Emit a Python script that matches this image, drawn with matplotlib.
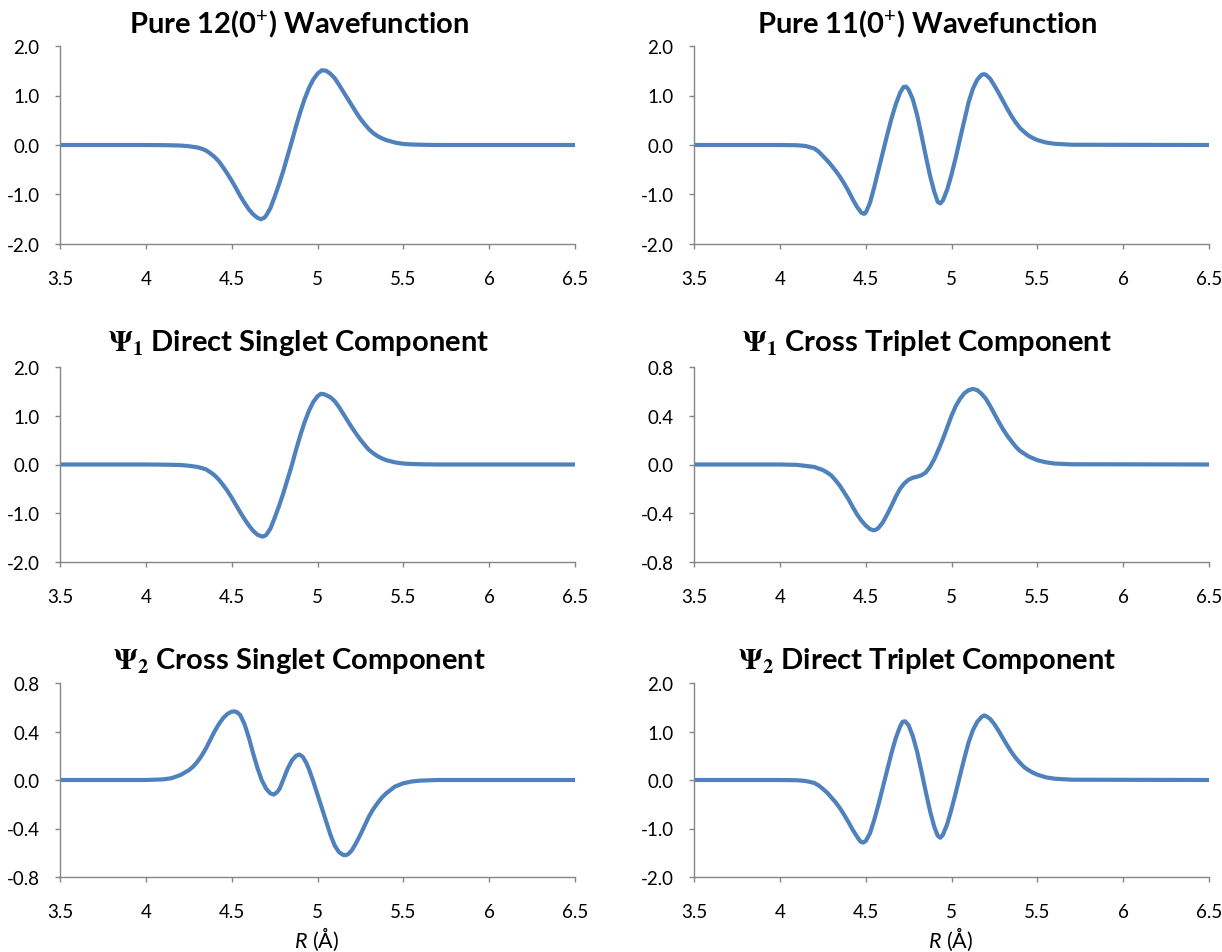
import numpy as np
import matplotlib
matplotlib.use("Agg")
import matplotlib.pyplot as plt

plt.rcParams['font.family'] = ['Lato', 'DejaVu Sans']
plt.rcParams['mathtext.fontset'] = 'custom'
plt.rcParams['mathtext.rm'] = 'Lato'
plt.rcParams['mathtext.it'] = 'Lato:italic'
plt.rcParams['mathtext.bf'] = 'Lato:bold'

# Pure 12(0+) wavefunction
r_pure12 = [3.5, 4.0, 4.1, 4.2, 4.25, 4.3, 4.325, 4.35, 4.375, 4.4, 4.425, 4.45, 4.475, 4.5,
            4.525, 4.55, 4.575, 4.6, 4.625, 4.65, 4.67, 4.69, 4.7, 4.725, 4.75, 4.775, 4.8,
            4.825, 4.85, 4.875, 4.9, 4.925, 4.95, 4.975, 5.0, 5.025, 5.05, 5.075, 5.1, 5.125,
            5.15, 5.175, 5.2, 5.225, 5.25, 5.275, 5.3, 5.325, 5.35, 5.375, 5.4, 5.45, 5.5,
            5.55, 5.6, 5.7, 6.5]
psi_pure12 = [0, 0, -0.003, -0.01, -0.025, -0.05, -0.075, -0.11, -0.17, -0.24, -0.33, -0.45,
              -0.58, -0.72, -0.87, -1.03, -1.17, -1.3, -1.4, -1.47, -1.5, -1.47, -1.43, -1.28,
              -1.05, -0.8, -0.53, -0.23, 0.07, 0.38, 0.67, 0.93, 1.15, 1.32, 1.44, 1.51, 1.5,
              1.44, 1.35, 1.22, 1.08, 0.94, 0.8, 0.66, 0.53, 0.42, 0.32, 0.24, 0.18, 0.135,
              0.1, 0.05, 0.02, 0.01, 0.005, 0, 0]

# Pure 11(0+) wavefunction
r_pure11 = [3.5, 4.0, 4.1, 4.15, 4.2, 4.225, 4.25, 4.275, 4.3, 4.325, 4.35, 4.375, 4.4, 4.425,
            4.45, 4.475, 4.49, 4.5, 4.525, 4.55, 4.575, 4.6, 4.625, 4.65, 4.675, 4.7, 4.72,
            4.735, 4.75, 4.775, 4.8, 4.825, 4.85, 4.875, 4.9, 4.92, 4.935, 4.95, 4.975, 5.0,
            5.025, 5.05, 5.075, 5.1, 5.125, 5.15, 5.175, 5.19, 5.2, 5.225, 5.25, 5.275, 5.3,
            5.325, 5.35, 5.375, 5.4, 5.425, 5.45, 5.475, 5.5, 5.55, 5.6, 5.7, 6.5]
psi_pure11 = [0, 0, -0.005, -0.02, -0.07, -0.13, -0.22, -0.31, -0.41, -0.52, -0.64, -0.78,
              -0.93, -1.1, -1.25, -1.37, -1.39, -1.37, -1.17, -0.85, -0.5, -0.15, 0.2, 0.53,
              0.82, 1.05, 1.17, 1.18, 1.12, 0.92, 0.6, 0.2, -0.22, -0.62, -0.95, -1.15, -1.18,
              -1.12, -0.9, -0.6, -0.25, 0.13, 0.5, 0.87, 1.14, 1.32, 1.42, 1.43, 1.42, 1.34,
              1.2, 1.05, 0.89, 0.73, 0.58, 0.45, 0.34, 0.26, 0.19, 0.14, 0.1, 0.05, 0.025,
              0.005, 0]

# Psi_1 direct singlet component
r_psi1_ds = [3.5, 4.0, 4.1, 4.2, 4.25, 4.3, 4.325, 4.35, 4.375, 4.4, 4.425, 4.45, 4.475, 4.5,
             4.525, 4.55, 4.575, 4.6, 4.625, 4.65, 4.68, 4.7, 4.725, 4.75, 4.775, 4.8, 4.825,
             4.85, 4.875, 4.9, 4.925, 4.95, 4.975, 5.0, 5.02, 5.04, 5.075, 5.1, 5.125, 5.15,
             5.175, 5.2, 5.225, 5.25, 5.275, 5.3, 5.325, 5.35, 5.375, 5.4, 5.45, 5.5, 5.55,
             5.6, 5.7, 6.5]
psi1_ds = [0, 0, -0.003, -0.01, -0.025, -0.05, -0.072, -0.1, -0.155, -0.22, -0.31, -0.42,
           -0.54, -0.68, -0.83, -0.98, -1.12, -1.25, -1.36, -1.44, -1.48, -1.45, -1.32, -1.1,
           -0.86, -0.6, -0.31, -0.02, 0.3, 0.6, 0.87, 1.1, 1.28, 1.4, 1.45, 1.44, 1.38, 1.3,
           1.18, 1.04, 0.9, 0.76, 0.63, 0.51, 0.4, 0.3, 0.23, 0.17, 0.125, 0.09, 0.045, 0.02,
           0.01, 0.005, 0, 0]

# Psi_1 cross triplet component
r_psi1_ct = [3.5, 4.0, 4.1, 4.2, 4.25, 4.275, 4.3, 4.325, 4.35, 4.375, 4.4, 4.425, 4.45, 4.475,
             4.5, 4.525, 4.545, 4.56, 4.575, 4.6, 4.625, 4.65, 4.675, 4.7, 4.725, 4.75, 4.775,
             4.8, 4.825, 4.85, 4.875, 4.9, 4.925, 4.95, 4.975, 5.0, 5.025, 5.05, 5.075, 5.1,
             5.125, 5.15, 5.175, 5.2, 5.225, 5.25, 5.275, 5.3, 5.325, 5.35, 5.375, 5.4, 5.45,
             5.5, 5.55, 5.6, 5.7, 6.5]
psi1_ct = [0, 0, -0.003, -0.02, -0.045, -0.065, -0.09, -0.13, -0.175, -0.23, -0.285, -0.35,
           -0.41, -0.46, -0.5, -0.53, -0.54, -0.535, -0.52, -0.475, -0.41, -0.34, -0.265, -0.2,
           -0.155, -0.125, -0.108, -0.1, -0.088, -0.065, -0.02, 0.045, 0.125, 0.21, 0.305,
           0.4, 0.48, 0.54, 0.585, 0.61, 0.62, 0.61, 0.58, 0.54, 0.48, 0.415, 0.35, 0.29,
           0.235, 0.19, 0.145, 0.11, 0.065, 0.035, 0.018, 0.008, 0.002, 0]

# Psi_2 cross singlet component
r_psi2_cs = [3.5, 4.0, 4.1, 4.15, 4.2, 4.25, 4.275, 4.3, 4.325, 4.35, 4.375, 4.4, 4.425, 4.45,
             4.475, 4.5, 4.515, 4.53, 4.55, 4.575, 4.6, 4.625, 4.65, 4.675, 4.7, 4.725, 4.745,
             4.765, 4.78, 4.8, 4.825, 4.85, 4.875, 4.895, 4.915, 4.935, 4.95, 4.975, 5.0,
             5.025, 5.05, 5.075, 5.1, 5.125, 5.15, 5.165, 5.18, 5.2, 5.225, 5.25, 5.275, 5.3,
             5.325, 5.35, 5.375, 5.4, 5.45, 5.5, 5.55, 5.6, 5.7, 6.5]
psi2_cs = [0, 0, 0.005, 0.015, 0.04, 0.08, 0.11, 0.15, 0.2, 0.26, 0.33, 0.4, 0.46, 0.51, 0.545,
           0.563, 0.566, 0.56, 0.535, 0.46, 0.35, 0.22, 0.1, 0.0, -0.07, -0.11, -0.12, -0.1,
           -0.07, 0.0, 0.09, 0.16, 0.2, 0.21, 0.19, 0.14, 0.09, -0.01, -0.12, -0.23, -0.34,
           -0.45, -0.54, -0.595, -0.618, -0.62, -0.61, -0.58, -0.52, -0.45, -0.375, -0.3,
           -0.24, -0.19, -0.145, -0.11, -0.055, -0.027, -0.012, -0.005, 0, 0]

# Psi_2 direct triplet component
r_psi2_dt = [3.5, 4.0, 4.1, 4.15, 4.2, 4.225, 4.25, 4.275, 4.3, 4.325, 4.35, 4.375, 4.4, 4.425,
             4.45, 4.47, 4.485, 4.5, 4.525, 4.55, 4.575, 4.6, 4.625, 4.65, 4.675, 4.7, 4.715,
             4.73, 4.75, 4.775, 4.8, 4.825, 4.85, 4.875, 4.9, 4.92, 4.935, 4.95, 4.975, 5.0,
             5.025, 5.05, 5.075, 5.1, 5.125, 5.15, 5.175, 5.19, 5.2, 5.225, 5.25, 5.275, 5.3,
             5.325, 5.35, 5.375, 5.4, 5.425, 5.45, 5.475, 5.5, 5.55, 5.6, 5.7, 6.5]
psi2_dt = [0, 0, -0.005, -0.02, -0.06, -0.11, -0.18, -0.26, -0.36, -0.46, -0.58, -0.72, -0.87,
           -1.03, -1.17, -1.27, -1.29, -1.26, -1.1, -0.82, -0.5, -0.15, 0.2, 0.55, 0.86, 1.1,
           1.2, 1.21, 1.13, 0.9, 0.58, 0.18, -0.24, -0.64, -0.97, -1.15, -1.19, -1.13, -0.91,
           -0.6, -0.26, 0.1, 0.45, 0.78, 1.03, 1.2, 1.3, 1.33, 1.32, 1.26, 1.15, 1.01, 0.86,
           0.71, 0.57, 0.45, 0.35, 0.26, 0.2, 0.15, 0.11, 0.055, 0.027, 0.006, 0]

x_ticks = [3.5, 4, 4.5, 5, 5.5, 6, 6.5]
x_ticklabels = ["3.5", "4", "4.5", "5", "5.5", "6", "6.5"]
ticks_wide = [-2.0, -1.0, 0.0, 1.0, 2.0]
ticks_narrow = [-0.8, -0.4, 0.0, 0.4, 0.8]

titles = ["Pure 12(0$^{+}$) Wavefunction", "Pure 11(0$^{+}$) Wavefunction",
          "$\\mathbf{\\Psi_1}$ Direct Singlet Component", "$\\mathbf{\\Psi_1}$ Cross Triplet Component",
          "$\\mathbf{\\Psi_2}$ Cross Singlet Component", "$\\mathbf{\\Psi_2}$ Direct Triplet Component"]
panels = [(r_pure12, psi_pure12, ticks_wide), (r_pure11, psi_pure11, ticks_wide),
          (r_psi1_ds, psi1_ds, ticks_wide), (r_psi1_ct, psi1_ct, ticks_narrow),
          (r_psi2_cs, psi2_cs, ticks_narrow), (r_psi2_dt, psi2_dt, ticks_wide)]

W, H = 1222, 953
fig = plt.figure(figsize=(W / 100, H / 100), dpi=100)

col_left = [60, 694]
row_top = [47, 368, 684]
row_bot = [245, 563, 878]
title_x = [299, 927]
title_y = [24, 343, 661]
gray = "#868686"
blue = "#4F81BD"

for i, (r, psi, yt) in enumerate(panels):
    row, col = divmod(i, 2)
    x0 = col_left[col]
    ax = fig.add_axes([x0 / W, 1 - row_bot[row] / H, 515 / W, (row_bot[row] - row_top[row]) / H])
    ax.plot(r, psi, color=blue, lw=3.0, solid_joinstyle="round")
    ax.set_xlim(3.5, 6.5)
    ax.set_ylim(yt[0], yt[-1])
    ax.set_xticks(x_ticks)
    ax.set_xticklabels(x_ticklabels)
    ax.set_yticks(yt)
    ax.set_yticklabels(["%.1f" % v for v in yt])
    for s in ["top", "right"]:
        ax.spines[s].set_visible(False)
    for s in ["left", "bottom"]:
        ax.spines[s].set_color(gray)
        ax.spines[s].set_linewidth(1.0)
    ax.tick_params(axis="both", direction="out", length=3.6, width=1.0, color=gray,
                   labelsize=13.5, labelcolor="#000000")
    ax.tick_params(axis="x", pad=15)
    ax.tick_params(axis="y", pad=11)
    ax.patch.set_visible(False)
    fig.text(title_x[col] / W, 1 - title_y[row] / H, titles[i], ha="center", va="center",
             fontsize=21, fontweight="bold", math_fontfamily="stix" if "Psi" in titles[i] else "custom")
    if row == 2:
        fig.text((x0 + 257) / W, 1 - 939 / H, "$R$ (Å)", ha="center", va="center", fontsize=15.5)

fig.savefig("out.png", dpi=100)
